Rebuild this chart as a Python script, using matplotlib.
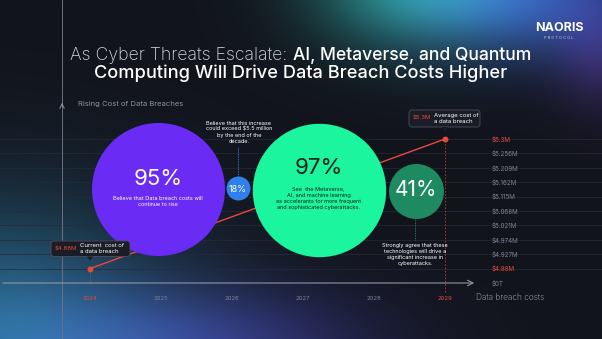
import numpy as np
import matplotlib.pyplot as plt
from matplotlib.colors import to_rgb
from matplotlib.patches import FancyBboxPatch, Polygon

# ---- data ----
years = [2024, 2025, 2026, 2027, 2028, 2029]
cost_ticks = ['$0T', '$4.88M', '$4.927M', '$4.974M', '$5.021M', '$5.068M',
              '$5.115M', '$5.162M', '$5.209M', '$5.256M', '$5.3M']
cost_values = [4.88, 4.927, 4.974, 5.021, 5.068, 5.115, 5.162, 5.209, 5.256, 5.3]
trend_years = [2024, 2029]
trend_costs = [4.88, 5.3]
bubble_pcts = ['95%', '18%', '97%', '41%']
bubble_notes = [
    'Believe that Data breach costs will\ncontinue to rise',
    'Believe that this increase\ncould exceed $5.5 million\nby the end of the\ndecade.',
    'See  the Metaverse,\nAI, and machine learning\nas accelerants for more frequent\nand sophisticated cyberattacks.',
    'Strongly agree that these\ntechnologies will drive a\nsignificant increase in\ncyberattacks.',
]
callout_notes = ['Current  cost of\na data breach', 'Average cost of\na data breach']

# ---- style ----
BG = '#12141c'
RED = '#e8493b'
GREY = '#8c91a0'
plt.rcParams['font.family'] = ['Inter', 'DejaVu Sans']

W, H = 602, 339
fig = plt.figure(figsize=(W / 100, H / 100), dpi=100)
fig.patch.set_facecolor(BG)

# background glow
bg = fig.add_axes([0, 0, 1, 1], zorder=0)
yy, xx = np.mgrid[0:H, 0:W]
img = np.zeros((H, W, 3))
img[:] = to_rgb(BG)


def glow(cx, cy, sx, sy, color, k):
    global img
    g = np.exp(-(((xx - cx) / sx) ** 2 + ((yy - cy) / sy) ** 2) / 2)
    img = img + k * g[..., None] * np.array(to_rgb(color))


glow(410, -15, 70, 45, '#1c9a82', 0.75)
glow(530, -5, 80, 45, '#2f55c8', 0.7)
glow(605, 55, 35, 40, '#5b2aa0', 0.35)
glow(-10, 350, 130, 100, '#1f7396', 0.8)
glow(200, 350, 120, 45, '#3a35a8', 0.55)
bg.imshow(np.clip(img, 0, 1), extent=(0, W, H, 0), aspect='auto')
bg.set_xlim(0, W)
bg.set_ylim(H, 0)
bg.axis('off')

# title + logo (pixel layout)
bg.text(292, 56, 'As Cyber Threats Escalate: ', ha='right', va='center',
        fontsize=12.7, color='#d8dae2', fontweight='light')
bg.text(293, 56, 'AI, Metaverse, and Quantum', ha='left', va='center',
        fontsize=12.6, color='white', fontweight='medium')
bg.text(301, 73, 'Computing Will Drive Data Breach Costs Higher', ha='center',
        va='center', fontsize=13.1, color='white', fontweight='medium')
bg.text(559, 28, 'NAORIS', ha='center', va='center', fontsize=9,
        color='white', fontweight='bold')
bg.text(559, 38, 'P R O T O C O L', ha='center', va='center', fontsize=2.8,
        color='#c8cbe0')
bg.text(78, 104, 'Rising Cost of Data Breaches', ha='left', va='center',
        fontsize=5.5, color=GREY)

# ---- main data axes: x in years, y in tick index ----
X0, PXY = 90, 71.0      # pixel of 2024, pixels per year
Y0, PXS = 283, 14.4     # pixel of axis, pixels per tick step


def dx(px):
    return 2024 + (px - X0) / PXY


def dy(py):
    return (Y0 - py) / PXS


def cost_idx(c):
    return np.interp(c, cost_values, np.arange(1, len(cost_values) + 1))


ax = fig.add_axes([0, 0, 1, 1], zorder=1)
ax.patch.set_alpha(0)
ax.set_xlim(dx(0), dx(W))
ax.set_ylim(dy(H), dy(0))
ax.axis('off')

# grid lines + right-hand tick labels
for i, lab in enumerate(cost_ticks):
    if i > 0:
        ax.axhline(i, color='#272b38', lw=0.5, zorder=0.5)
    col = RED if lab in ('$4.88M', '$5.3M') else '#7d8292'
    ax.text(dx(492), i, lab, ha='left', va='center', fontsize=4.5, color=col)

# axes lines with chevrons
ax.axvline(dx(62), color='#6c7182', lw=0.7, zorder=0.6)
ax.annotate('', xy=(dx(62), dy(100)), xytext=(dx(62), dy(109)),
            arrowprops=dict(arrowstyle='->', color='#8c91a0', lw=0.7,
                            mutation_scale=8))
ax.annotate('', xy=(dx(477), 0), xytext=(dx(0), 0),
            arrowprops=dict(arrowstyle='->', color='#9095a5', lw=0.8,
                            mutation_scale=10))

# year labels
for yr in years:
    col = RED if yr in (years[0], years[-1]) else '#7d8292'
    ax.text(yr, dy(298), str(yr), ha='center', va='center', fontsize=4.3,
            color=col)
ax.text(dx(476), dy(297), 'Data breach costs', ha='left', va='center',
        fontsize=6, color='#b4b8c6', fontweight='light')

# trend line
ty = [cost_idx(c) for c in trend_costs]
ax.vlines(trend_years[1], dy(292), ty[1], color=RED, lw=0.6,
          linestyles=(0, (2, 2)), zorder=1, alpha=0.8)
ax.vlines(trend_years[0], 0, ty[0], color='#555a6b', lw=0.5, zorder=1)
ax.plot(trend_years, ty, color=RED, lw=1.0, zorder=2)
ax.scatter(trend_years, ty, s=18, color=RED, zorder=6, linewidths=0)

# bubbles (layout: centre px, radius px)
bubble_pos = [(158, 188.5, 66.5), (238, 188.3, 12), (318.5, 190, 66.7), (416, 191, 27.5)]
bubble_cols = ['#6a2cf5', '#2f80ea', '#1bf59e', '#1d8a62']
for (bx, by, r), c in zip(bubble_pos, bubble_cols):
    ax.scatter(dx(bx), dy(by), s=(2 * r * 0.72) ** 2, color=c, zorder=3,
               linewidths=0)

ax.text(dx(158), dy(179), bubble_pcts[0], ha='center', va='center',
        fontsize=16, color='white', zorder=7)
ax.text(dx(158), dy(201.7), bubble_notes[0], ha='center', va='center',
        fontsize=4, color='white', zorder=7, linespacing=1.3)

ax.text(dx(238), dy(189), bubble_pcts[1], ha='center', va='center',
        fontsize=6.5, color='white', zorder=7)
ax.text(dx(239), dy(132.5), bubble_notes[1], ha='center', va='center',
        fontsize=4, color='white', zorder=7, linespacing=1.3)
ax.vlines(dx(238), dy(176), dy(147), color='#3a8cff', lw=0.6,
          linestyles=(0, (1, 1)), zorder=2)

ax.text(dx(318.5), dy(168.5), bubble_pcts[2], ha='center', va='center',
        fontsize=16, color='#0e2019', zorder=7)
ax.text(dx(318.5), dy(198.5), bubble_notes[2], ha='center', va='center',
        fontsize=4, color='#0e2019', zorder=7, linespacing=1.3)

ax.text(dx(416), dy(190), bubble_pcts[3], ha='center', va='center',
        fontsize=15, color='white', zorder=7)
ax.text(dx(415), dy(254.7), bubble_notes[3], ha='center', va='center',
        fontsize=4, color='white', zorder=7, linespacing=1.3)
ax.vlines(dx(415), dy(240), dy(218), color='#1e9a6a', lw=0.6,
          linestyles=(0, (1, 1)), zorder=2)

# callout boxes on a pixel overlay
top = fig.add_axes([0, 0, 1, 1], zorder=2)
top.patch.set_alpha(0)
top.set_xlim(0, W)
top.set_ylim(H, 0)
top.axis('off')


def callout(x0, y0, w, h, tip, value, note, text_dx):
    top.add_patch(FancyBboxPatch((x0, y0), w, h,
                                 boxstyle='round,pad=0,rounding_size=3',
                                 fc='#1b1d26', ec='#4b5060', lw=0.6))
    top.add_patch(Polygon([(tip - 3, y0 + h), (tip + 3, y0 + h), (tip, y0 + h + 4)],
                          closed=True, fc='#1b1d26', ec='none'))
    top.text(x0 + 4, y0 + h / 2, value, ha='left', va='center', fontsize=4.3,
             color=RED)
    top.text(x0 + text_dx, y0 + h / 2, note, ha='left', va='center',
             fontsize=4.3, color='white', linespacing=1.2)


callout(51, 241, 79, 15.5, 90, cost_ticks[1], callout_notes[0], 29)
callout(409, 110, 71, 17, 445, cost_ticks[-1], callout_notes[1], 25)

fig.savefig('out.png', dpi=100, facecolor=BG)
